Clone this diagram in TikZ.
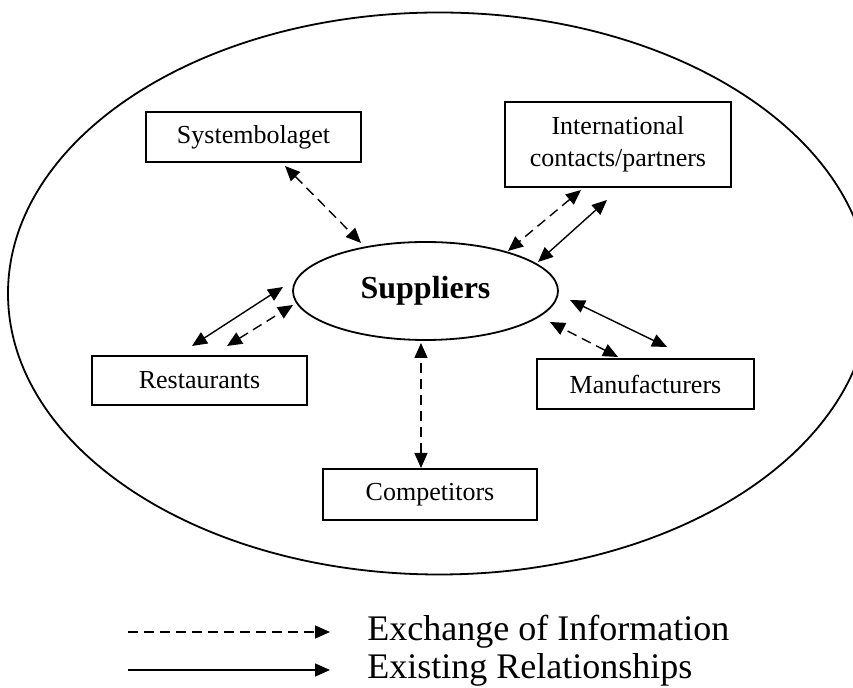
\documentclass[tikz,border=0pt]{standalone}
\usepackage{fontspec}
\setmainfont{Liberation Serif}
\usetikzlibrary{arrows.meta,shapes.geometric}

\begin{document}
\begin{tikzpicture}[x=0.5pt,y=-0.5pt,
  arr/.tip={Triangle[length=7.5pt,width=6.5pt]},
  box/.style={draw,line width=0.9pt,inner sep=0pt,align=center,font=\fontsize{13}{16}\selectfont},
  info/.style={line width=0.7pt,dash pattern=on 5pt off 3pt,arr-arr},
  rel/.style={line width=0.7pt,arr-arr}]
  \useasboundingbox (0,0) rectangle (853,688);
  \draw[line width=0.9pt] (439,293.5) ellipse [x radius=431,y radius=281];
  \node[draw,ellipse,line width=0.9pt,inner sep=0pt,minimum width=132.5pt,minimum height=49pt,
    font=\bfseries\fontsize{16}{19}\selectfont] (sup) at (425.5,291) {Suppliers};
  \node[box,minimum width=107.5pt,minimum height=25pt] (sys) at (253.5,137) {Systembolaget};
  \node[box,minimum width=113pt,minimum height=42.5pt] (intl) at (618,144.5) {International\\contacts/partners};
  \node[box,minimum width=107.5pt,minimum height=24.5pt] (rest) at (199.5,380.5) {Restaurants};
  \node[box,minimum width=108.5pt,minimum height=25pt] (man) at (645.5,384) {Manufacturers};
  \node[box,minimum width=107pt,minimum height=25.5pt] (comp) at (430,494.5) {Competitors};
  \draw[info] ([shift={(31.5,29)}]sys.center) -- ([shift={(-64.5,-48)}]sup.center);
  \draw[info] ([shift={(-37,45.5)}]intl.center) -- ([shift={(82.5,-40)}]sup.center);
  \draw[rel] ([shift={(-11,55.5)}]intl.center) -- ([shift={(112.5,-29)}]sup.center);
  \draw[rel] ([shift={(-7.5,-34.5)}]rest.center) -- ([shift={(-142.5,-4)}]sup.center);
  \draw[info] ([shift={(27.5,-34.5)}]rest.center) -- ([shift={(-132.5,14)}]sup.center);
  \draw[rel] ([shift={(21.5,-37)}]man.center) -- ([shift={(144.5,9)}]sup.center);
  \draw[info] ([shift={(-27.5,-27)}]man.center) -- ([shift={(124.5,31)}]sup.center);
  \draw[info] ([shift={(-9,-26.5)}]comp.center) -- ([shift={(-4.5,52)}]sup.center);
  \coordinate (exa) at (128,632);
  \coordinate (exb) at (330,632);
  \coordinate (rla) at (128,670);
  \coordinate (rlb) at (330,670);
  \draw[info,-arr] (exa) -- (exb);
  \draw[rel,-arr] (rla) -- (rlb);
  \node[anchor=west,inner sep=0pt,font=\fontsize{18}{21}\selectfont] (exl) at (367,632) {Exchange of Information};
  \node[anchor=west,inner sep=0pt,font=\fontsize{18}{21}\selectfont] (rll) at (367,670) {Existing Relationships};
\end{tikzpicture}
\end{document}
